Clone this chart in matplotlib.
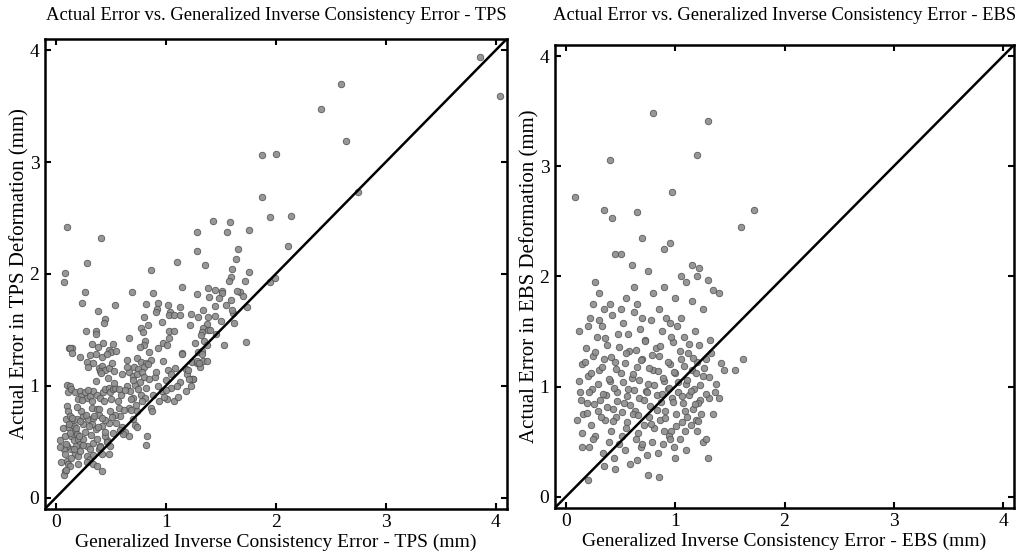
import numpy as np
import matplotlib.pyplot as plt

# ============================================================
# DATA — values (mm)
# ============================================================
tps_gice = [
    0.10, 0.41, 1.28, 1.28, 0.28, 0.08, 0.07, 1.10, 0.86, 0.26, 0.69, 0.88, 1.15, 1.28,
    0.24, 0.54, 0.82, 0.93, 0.92, 0.91, 1.02, 1.04, 1.03, 1.07, 1.13, 1.13, 1.23, 1.29,
    0.38, 0.45, 0.44, 0.80, 0.84, 0.77, 0.79, 0.96, 1.03, 1.07, 1.22, 0.27, 0.36, 0.36,
    0.66, 1.03, 0.81, 0.80, 0.33, 0.38, 0.43, 0.52, 0.97, 1.01, 0.93, 0.76, 0.12, 0.15,
    1.95, 2.14, 1.43, 1.58, 1.56, 1.76, 1.66, 2.11, 1.36, 1.64, 1.60, 1.76, 1.59, 1.57,
    1.72, 1.95, 1.99, 1.38, 1.45, 1.51, 1.51, 1.67, 1.39, 1.48, 1.59, 1.45, 1.34, 1.74,
    1.38, 1.61, 1.62, 1.37, 1.34, 1.38, 1.33, 1.46, 1.35, 1.37, 1.53, 1.73,
    1.29, 1.33, 1.33, 1.24, 1.28, 1.31, 1.34, 1.37, 1.25, 1.23,
    0.13, 0.15, 0.48, 0.50, 0.55, 0.85, 1.15,
    0.22, 0.31, 0.36, 0.42, 0.46, 0.65, 0.74, 0.77, 0.82, 0.86,
    0.28, 0.29, 0.34, 0.39, 0.42, 0.40, 0.45, 0.48, 0.51, 0.53,
    0.71, 0.75, 0.80, 0.84, 0.66, 0.70, 0.74, 0.78, 0.80,
    1.02, 1.08, 1.18, 1.19, 1.24, 1.28, 1.30, 1.25, 1.13, 1.18, 1.21, 1.01, 1.07, 1.11, 0.82,
    0.10, 0.13, 0.11, 0.14, 0.17, 0.22, 0.23, 0.20, 0.26, 0.28, 0.31, 0.34, 0.37, 0.40,
    0.43, 0.45, 0.48, 0.49, 0.52, 0.54, 0.57,
    0.65, 0.67, 0.72, 0.75, 0.77, 0.81, 0.70, 0.66, 0.68, 0.74, 0.70, 0.72, 0.74,
    0.86, 0.87, 0.83,
    0.57, 0.58, 0.54, 0.51, 0.48, 0.45, 0.42, 0.60, 0.63, 0.61, 0.66,
    0.10, 0.11, 0.09, 0.13, 0.14, 0.16, 0.11, 0.17, 0.19, 0.14, 0.16, 0.20, 0.22, 0.18,
    0.14, 0.10, 0.07, 0.04, 0.04, 0.08, 0.10, 0.11, 0.08, 0.07, 0.13, 0.17, 0.20, 0.22,
    0.25, 0.28, 0.31, 0.28, 0.34, 0.37, 0.39, 0.40, 0.42, 0.31, 0.34, 0.37, 0.42, 0.48,
    0.49, 0.46, 0.45, 0.36, 0.33, 0.29, 0.25, 0.23, 0.33, 0.37, 0.39, 0.34, 0.19, 0.25,
    3.86, 4.04, 2.59, 2.41, 2.64, 1.87, 2.00, 2.75, 1.87,
    0.96, 1.00, 0.93, 0.90, 1.05, 0.98,
    0.06, 0.08, 0.09, 0.12, 0.13, 0.15, 0.16, 0.18, 0.19, 0.21, 0.22, 0.24, 0.25, 0.26,
    0.27, 0.29, 0.30, 0.32, 0.33, 0.35, 0.36, 0.38, 0.39, 0.41, 0.42, 0.44, 0.45, 0.47,
    0.49, 0.50, 0.53, 0.55, 0.56, 0.59, 0.60, 0.62, 0.63, 0.65, 0.68, 0.70, 0.73, 0.76,
    0.78, 0.82, 0.85, 0.88, 0.91, 0.94, 0.97, 1.00, 1.05, 1.10, 1.15, 1.20, 1.26, 1.32,
    1.40, 1.45, 1.50, 1.55, 1.60, 1.65, 1.70, 0.05, 0.09, 0.14, 0.20, 0.28, 0.34, 0.40,
    0.46, 0.52, 0.58,
]
tps_actual = [
    2.42, 2.32, 2.37, 2.20, 2.10, 2.01, 1.93, 2.11, 2.03, 1.84, 1.84, 1.83, 1.88, 1.82,
    1.74, 1.72, 1.73, 1.74, 1.69, 1.66, 1.72, 1.66, 1.63, 1.63, 1.70, 1.63, 1.64, 1.61,
    1.67, 1.60, 1.56, 1.61, 1.54, 1.52, 1.48, 1.57, 1.49, 1.49, 1.54, 1.49, 1.49, 1.46,
    1.43, 1.43, 1.40, 1.36, 1.37, 1.35, 1.38, 1.37, 1.38, 1.36, 1.34, 1.35, 1.34, 1.34,
    2.51, 2.52, 2.47, 2.46, 2.37, 2.39, 2.22, 2.25, 2.08, 2.13, 2.04, 2.02, 1.97, 1.94,
    1.94, 1.93, 1.96, 1.87, 1.86, 1.85, 1.83, 1.84, 1.79, 1.78, 1.77, 1.71, 1.68, 1.70,
    1.61, 1.65, 1.56, 1.55, 1.52, 1.50, 1.48, 1.46, 1.40, 1.36, 1.36, 1.39,
    1.30, 1.31, 1.28, 1.21, 1.20, 1.17, 1.22, 1.22, 1.06, 1.00,
    1.34, 1.29, 1.32, 1.30, 1.31, 1.30, 1.29,
    1.26, 1.27, 1.28, 1.26, 1.28, 1.23, 1.25, 1.21, 1.20, 1.23,
    1.21, 1.17, 1.20, 1.16, 1.18, 1.13, 1.14, 1.16, 1.20, 1.13,
    1.17, 1.15, 1.17, 1.19, 1.12, 1.09, 1.10, 1.12, 1.08,
    1.14, 1.16, 1.15, 1.10, 1.06, 1.22, 1.20, 1.06, 1.03, 0.95, 1.06, 0.88, 0.86, 0.90, 0.47,
    1.01, 1.00, 0.94, 0.97, 0.94, 0.95, 0.91, 0.88, 0.94, 0.89, 0.91, 0.95, 0.92, 0.89,
    0.94, 0.97, 0.98, 0.94, 0.97, 0.98, 0.97,
    1.00, 0.95, 1.01, 0.97, 0.92, 0.89, 0.89, 0.80, 0.78, 0.77, 0.70, 0.65, 0.63,
    0.80, 0.77, 0.55,
    0.80, 0.73, 0.74, 0.72, 0.67, 0.69, 0.64, 0.63, 0.59, 0.57, 0.55,
    0.82, 0.77, 0.70, 0.73, 0.67, 0.64, 0.63, 0.60, 0.57, 0.55, 0.51, 0.52, 0.48, 0.46,
    0.43, 0.46, 0.43, 0.51, 0.45, 0.39, 0.33, 0.30, 0.24, 0.20, 0.28, 0.39, 0.37, 0.42,
    0.52, 0.46, 0.43, 0.37, 0.49, 0.52, 0.43, 0.46, 0.39, 0.34, 0.30, 0.28, 0.24, 0.39,
    0.46, 0.51, 0.55, 0.61, 0.66, 0.70, 0.73, 0.77, 0.80, 0.79, 0.74, 0.71, 0.70, 0.66,
    3.94, 3.59, 3.70, 3.47, 3.19, 3.06, 3.07, 2.73, 2.69,
    0.95, 1.05, 1.00, 1.08, 0.98, 0.90,
    0.62, 0.55, 0.48, 0.66, 0.58, 0.71, 0.43, 0.62, 0.81, 0.55, 0.68, 0.87, 0.47, 0.59,
    0.74, 0.96, 0.64, 0.56, 0.86, 0.73, 1.04, 0.63, 0.79, 1.11, 0.71, 0.86, 0.59, 1.07,
    0.77, 0.88, 1.02, 0.67, 0.86, 0.92, 1.10, 0.78, 0.96, 1.17, 0.88, 1.05, 0.83, 1.03,
    0.86, 0.98, 1.06, 0.92, 1.12, 0.86, 1.22, 0.96, 1.10, 1.00, 1.28, 1.14, 1.38, 1.45,
    1.50, 1.62, 1.58, 1.72, 1.68, 1.85, 1.80, 0.32, 0.25, 0.35, 0.30, 0.32, 0.38, 0.45,
    0.50, 0.58, 0.60,
]

ebs_gice = [
    0.08, 0.80, 1.30, 0.40, 1.20, 1.60, 1.72, 0.97, 0.35, 0.42, 0.65, 0.70, 0.90, 1.15,
    1.22, 1.30, 1.35, 1.40, 0.27, 0.30, 0.45, 0.50, 0.60, 0.75, 0.95, 1.05, 1.10, 1.20,
    0.25, 0.35, 0.55, 0.65, 0.80, 0.90, 1.00, 1.25, 1.62, 1.55, 1.45, 0.10, 0.15, 0.20,
    0.75, 0.85, 1.00, 1.30, 1.25,
    0.12, 0.18, 0.22, 0.28, 0.33, 0.38, 0.42, 0.48, 0.52, 0.58, 0.62, 0.68, 0.72, 0.78,
    0.82, 0.88, 0.92, 0.98, 1.02, 1.08, 1.12, 1.18, 1.22, 1.28, 1.32,
    0.15, 0.20, 0.25, 0.30, 0.35, 0.40, 0.45, 0.50, 0.55, 0.60, 0.65, 0.70, 0.75, 0.80,
    0.85, 0.90, 0.95, 1.00, 1.05, 1.10, 1.15, 1.20, 1.25,
    0.13, 0.19, 0.24, 0.31, 0.37, 0.43, 0.47, 0.53, 0.57, 0.63, 0.67, 0.73, 0.77, 0.83,
    0.87, 0.93, 0.97, 1.03, 1.07, 1.13, 1.17, 1.23,
    0.16, 0.23, 0.29, 0.36, 0.41, 0.46, 0.51, 0.56, 0.61, 0.66, 0.71, 0.76, 0.81, 0.86,
    0.91, 0.96, 1.01, 1.06, 1.11, 1.16, 1.21, 1.31, 1.36,
    0.21, 0.27, 0.34, 0.39, 0.44, 0.49, 0.54, 0.59, 0.64, 0.69, 0.74, 0.79, 0.84, 0.89,
    0.94, 0.99, 1.04, 1.09, 1.14, 1.19, 1.24,
    0.12, 0.14, 0.17, 0.19, 0.21, 0.23, 0.26, 0.27, 0.29, 0.32, 0.33, 0.34, 0.36, 0.38,
    0.39, 0.41, 0.43, 0.44, 0.46, 0.47, 0.49, 0.51, 0.52, 0.54, 0.56, 0.57, 0.59, 0.61,
    0.62, 0.64, 0.66, 0.67, 0.69, 0.71, 0.72, 0.74, 0.76, 0.78, 0.79, 0.81, 0.83, 0.84,
    0.86, 0.88, 0.89, 0.91, 0.93, 0.94, 0.96, 0.98, 0.99, 1.01, 1.03, 1.04, 1.06, 1.08,
    1.09, 1.11, 1.13, 1.14, 1.16, 1.18, 1.19, 1.21, 1.23, 1.26, 1.28, 1.31, 1.33, 1.37,
    1.42, 0.20, 0.30, 0.50, 0.70, 0.85, 1.05, 1.15, 0.40, 0.62, 0.95, 0.15, 0.25, 0.45,
    0.55, 0.65, 0.95, 1.10, 1.20, 0.35, 0.70, 0.90, 1.35, 1.40, 1.28,
]
ebs_actual = [
    2.72, 3.48, 3.41, 3.06, 3.10, 2.45, 2.60, 2.77, 2.60, 2.53, 2.58, 2.35, 2.25, 2.10,
    2.08, 1.97, 1.88, 1.85, 1.95, 1.85, 2.20, 2.20, 2.10, 2.05, 2.30, 2.00, 1.95, 2.00,
    1.75, 1.70, 1.80, 1.75, 1.85, 1.90, 1.80, 1.70, 1.25, 1.15, 1.15, 0.70, 0.45, 0.15,
    0.20, 0.18, 0.35, 0.35, 0.50,
    1.50, 1.35, 1.62, 1.45, 1.55, 1.38, 1.65, 1.48, 1.58, 1.32, 1.68, 1.52, 1.42, 1.60,
    1.35, 1.50, 1.62, 1.40, 1.55, 1.45, 1.30, 1.50, 1.38, 1.25, 1.42,
    1.20, 1.10, 1.28, 1.15, 1.25, 1.05, 1.22, 1.12, 1.30, 1.08, 1.18, 1.25, 1.02, 1.15,
    1.28, 1.05, 1.20, 1.12, 1.25, 1.02, 1.15, 1.22, 1.10,
    0.95, 0.85, 0.98, 0.88, 0.92, 0.80, 0.95, 0.85, 0.98, 0.78, 0.90, 0.96, 0.82, 0.92,
    0.86, 0.98, 0.90, 0.95, 0.85, 0.92, 0.98, 0.88,
    0.75, 0.65, 0.78, 0.70, 0.60, 0.72, 0.55, 0.68, 0.75, 0.58, 0.65, 0.72, 0.62, 0.70,
    0.78, 0.60, 0.75, 0.68, 0.72, 0.80, 0.85, 0.90, 0.95,
    0.45, 0.55, 0.40, 0.50, 0.35, 0.48, 0.42, 0.30, 0.52, 0.45, 0.38, 0.50, 0.40, 0.48,
    0.55, 0.45, 0.52, 0.60, 0.65, 0.70, 0.75,
    1.05, 0.88, 1.22, 0.76, 0.95, 1.12, 0.84, 1.31, 1.02, 0.72, 1.18, 0.93, 1.44, 0.81,
    1.07, 1.27, 0.69, 0.99, 1.16, 0.87, 1.36, 0.77, 1.04, 1.21, 0.91, 1.48, 0.83, 1.11,
    0.97, 1.33, 0.74, 1.06, 1.24, 0.88, 1.41, 0.95, 1.17, 0.66, 1.29, 1.01, 0.79, 1.14,
    1.37, 0.93, 1.08, 0.71, 1.22, 0.99, 1.45, 0.86, 1.13, 0.64, 1.04, 1.32, 0.91, 1.19,
    0.78, 1.06, 1.39, 0.96, 1.26, 0.84, 1.12, 0.69, 1.01, 1.17, 0.93, 1.09, 1.30, 1.02,
    1.21, 1.55, 1.60, 1.70, 1.62, 1.70, 1.62, 1.78, 1.75, 1.90, 1.58, 0.58, 0.52, 0.25,
    0.62, 0.33, 0.52, 0.42, 0.60, 0.28, 0.48, 0.60, 0.75, 0.90, 0.52,
]

LIMS = (-0.1, 4.1)
TICKS = [0, 1, 2, 3, 4]

plt.rcParams['font.family'] = ['Liberation Serif', 'DejaVu Serif']

fig = plt.figure(figsize=(10.25, 5.55), dpi=100)
ax1 = fig.add_axes([45 / 1025, 1 - 508.7 / 555, 461.7 / 1025, 469.7 / 555])
ax2 = fig.add_axes([555 / 1025, 1 - 507.7 / 555, 459 / 1025, 462.7 / 555])

panels = [
    (ax1, tps_gice, tps_actual, 'TPS', 14),
    (ax2, ebs_gice, ebs_actual, 'EBS', 18),
]

for ax, gx, gy, name, tpad in panels:
    ax.scatter(gx, gy, s=22, facecolor='#8c8c8c', edgecolor='#505050',
               linewidth=0.6, alpha=0.9, zorder=2)
    ax.plot(LIMS, LIMS, color='black', linewidth=1.8, zorder=3)
    ax.set_xlim(LIMS)
    ax.set_ylim(LIMS)
    ax.set_xticks(TICKS)
    ax.set_yticks(TICKS)
    ax.tick_params(direction='in', length=4, width=1.5, top=True, right=True,
                   labelsize=14, pad=4)
    for sp in ax.spines.values():
        sp.set_linewidth(1.8)
    ax.set_title(f'Actual Error vs. Generalized Inverse Consistency Error - {name}',
                 fontsize=13.4, pad=tpad)
    ax.set_xlabel(f'Generalized Inverse Consistency Error - {name} (mm)',
                  fontsize=14, labelpad=2)
    ax.set_ylabel(f'Actual Error in {name} Deformation (mm)', fontsize=15, labelpad=0)

fig.savefig('out.png', dpi=100)
